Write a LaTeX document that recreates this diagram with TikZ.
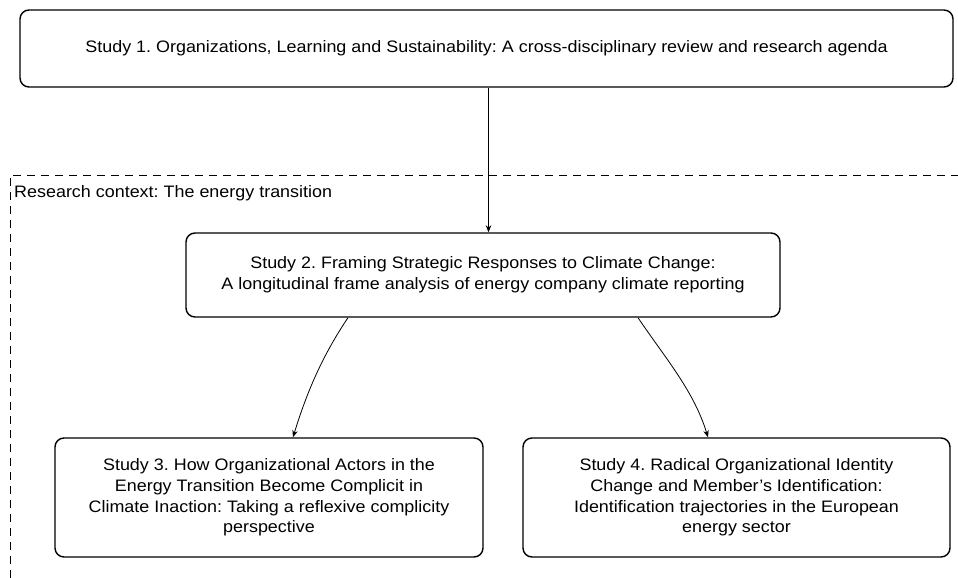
\documentclass[tikz,border=0pt]{standalone}
\usepackage{fontspec}
\setmainfont{Liberation Sans}[FakeStretch=1.08]
\usetikzlibrary{arrows.meta}
\frenchspacing
\begin{document}
\begin{tikzpicture}[x=1pt,y=1pt,
  studybox/.style={draw=black,line width=1.4pt,rounded corners=9pt,align=center,
    font=\fontsize{16.6}{20.8}\selectfont,inner sep=0pt},
  link/.style={draw=black,line width=0.8pt,-{Stealth[length=7pt,width=5.5pt]}},
  frame/.style={draw=black,line width=0.9pt,dash pattern=on 8pt off 6pt}]
  \useasboundingbox (0,0) rectangle (958,578);
  % dashed research-context frame, open at right and bottom
  \draw[frame] (10,0) -- (10,403) -- (958,403);
  \node[anchor=west,font=\fontsize{16.6}{20}\selectfont,inner sep=0pt] (ctx) at (14,385) {Research context: The energy transition};
  % study boxes
  \node[studybox,minimum width=933pt,minimum height=77pt] (s1) at (486.5,529.5)
    {Study 1. Organizations, Learning and Sustainability: A cross-disciplinary review and research agenda};
  \node[studybox,minimum width=594pt,minimum height=84pt] (s2) at (483,303)
    {Study 2. Framing Strategic Responses to Climate Change:\\A longitudinal frame analysis of energy company climate reporting};
  \node[studybox,minimum width=428pt,minimum height=119pt] (s3) at (269,80.5)
    {Study 3. How Organizational Actors in the\\Energy Transition Become Complicit in\\Climate Inaction: Taking a reflexive complicity\\perspective};
  \node[studybox,minimum width=427pt,minimum height=119pt] (s4) at (736.5,80.5)
    {Study 4. Radical Organizational Identity\\Change and Member's Identification:\\Identification trajectories in the European\\energy sector};
  % connectors
  \draw[link] (s1.south -| 488.5,0) -- (s2.north -| 488.5,0);
  \draw[link] (s2.south -| 348,0) to[out=-124,in=73,looseness=0.9] (s3.north -| 293,0);
  \draw[link] (s2.south -| 638,0) to[out=-56,in=107,looseness=0.9] (s4.north -| 708,0);
\end{tikzpicture}
\end{document}
